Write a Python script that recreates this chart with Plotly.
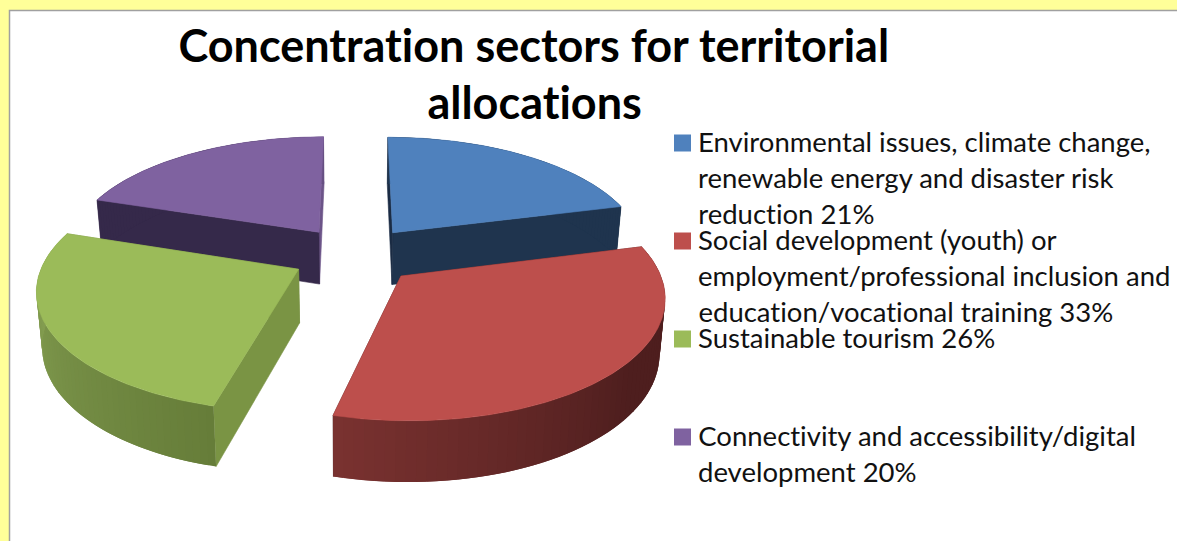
import numpy as np
import plotly.graph_objects as go

# Chart content
TITLE_LINES = ["Concentration sectors for territorial", "allocations"]
SHARES = [21, 33, 26, 20]
SECTOR_LINES = [
    ["Environmental issues, climate change,", "renewable energy and disaster risk", "reduction"],
    ["Social development (youth) or", "employment/professional inclusion and", "education/vocational training"],
    ["Sustainable tourism"],
    ["Connectivity and accessibility/digital", "development"],
]

# Palette: top face, first cut face, second cut face, rim at both ends
TOP_COLORS = ["#4f81bd", "#bd4f4c", "#9bbb59", "#7f62a0"]
START_CUT_COLORS = ["#1b2c44", "#4c1e1e", "#7a9444", "#35294a"]
END_CUT_COLORS = ["#1f344e", "#4c1e1e", "#7a9444", "#6c5488"]
RIM_FROM = ["#1f344e", "#4e1e1e", "#667d39", "#35294a"]
RIM_TO = ["#1f344e", "#7a3230", "#8ba657", "#6c5488"]
RIM_RAMP_START = [0.0, 0.45, 0.0, 0.9]
PAINT_ORDER = [0, 3, 2, 1]

# Projection of the tilted disc onto the plotting plane
CX, CY = 355.0, 255.0
SCALE_X, SCALE_Y = 253.0, 116.0
PERSPECTIVE = 0.15
THICKNESS = 53.0
FLOOR_SHRINK = 0.982
EXPLODE = 0.25
LEGEND_X = 699
LEGEND_SWATCH_X = 682.5
LEGEND_ROWS = [[143, 179, 215], [241, 277, 313], [339], [437, 473]]
FONT = "Lato, Carlito, Calibri, sans-serif"


def hex_rgb(code):
    return np.array([int(code[i:i + 2], 16) for i in (1, 3, 5)], dtype=float)


def mix(a, b, t):
    r, g, b_ = hex_rgb(a) * (1 - t) + hex_rgb(b) * t
    return f"rgb({r:.0f},{g:.0f},{b_:.0f})"


def top_point(theta, radius, off_x, off_y):
    """Project a disc point (clockwise angle from the back) to the top face."""
    big_x = off_x + radius * np.sin(theta)
    big_y = off_y + radius * np.cos(theta)
    w = 1 + PERSPECTIVE * big_y
    return CX + SCALE_X * big_x / w, CY - SCALE_Y * big_y / w, w


def floor_point(theta, radius, off_x, off_y):
    """Same disc point on the lower face of the slab."""
    x, y, w = top_point(theta, radius, off_x, off_y)
    return CX + (x - CX) * FLOOR_SHRINK, y + THICKNESS / w ** 0.75


def polygon(xs, ys, color, name, edge=0.6):
    return go.Scatter(
        x=list(xs) + [xs[0]], y=list(ys) + [ys[0]], mode="lines", fill="toself",
        fillcolor=color, line=dict(color=color, width=edge), name=name,
        hoverinfo="name", showlegend=False,
    )


fig = go.Figure()
edges = np.concatenate([[0], np.cumsum(SHARES)]) / sum(SHARES) * 2 * np.pi

for i in PAINT_ORDER:
    name = f"{SECTOR_LINES[i][-1]} {SHARES[i]}%"
    t0, t1 = edges[i], edges[i + 1]
    mid = (t0 + t1) / 2
    ox, oy = EXPLODE * np.sin(mid), EXPLODE * np.cos(mid)

    # Radial cut faces, lighter one underneath
    faces = [(t1, END_CUT_COLORS[i]), (t0, START_CUT_COLORS[i])]
    for angle, color in faces:
        ax, ay, _ = top_point(0, 0, ox, oy)
        bx, by, _ = top_point(angle, 1, ox, oy)
        fx0, fy0 = floor_point(0, 0, ox, oy)
        fx1, fy1 = floor_point(angle, 1, ox, oy)
        fig.add_trace(polygon([ax, bx, fx1, fx0], [ay, by, fy1, fy0], color, name))

    # Curved rim as shaded strips, each one running under the next to hide seams
    steps = np.linspace(t0, t1, 61)
    for j in range(len(steps) - 1):
        arc = np.linspace(steps[j], steps[min(j + 2, len(steps) - 1)], 4)
        tx, ty, _ = top_point(arc, 1, ox, oy)
        fx, fy = floor_point(arc, 1, ox, oy)
        along = (j + 0.5) / (len(steps) - 1)
        ramp = RIM_RAMP_START[i]
        shade = max(0.0, (along - ramp) / (1 - ramp))
        fig.add_trace(polygon(
            np.concatenate([tx, fx[::-1]]), np.concatenate([ty, fy[::-1]]),
            mix(RIM_FROM[i], RIM_TO[i], shade), name, edge=0,
        ))

    # Top face
    arc = np.linspace(t0, t1, 120)
    tx, ty, _ = top_point(arc, 1, ox, oy)
    ax, ay, _ = top_point(0, 0, ox, oy)
    fig.add_trace(polygon(np.concatenate([[ax], tx]), np.concatenate([[ay], ty]), TOP_COLORS[i], name))

# Legend swatches and wrapped labels
for i, rows in enumerate(LEGEND_ROWS):
    fig.add_trace(go.Scatter(
        x=[LEGEND_SWATCH_X], y=[rows[0]], mode="markers",
        marker=dict(symbol="square", size=17, color=TOP_COLORS[i], line=dict(width=0)),
        hoverinfo="skip", showlegend=False,
    ))
    for k, row_y in enumerate(rows):
        line = SECTOR_LINES[i][k]
        if k == len(rows) - 1:
            line = f"{line} {SHARES[i]}%"
        fig.add_annotation(
            x=LEGEND_X, y=row_y - 2, text=line, showarrow=False, xanchor="left", yanchor="middle",
            xshift=-3, font=dict(family=FONT, size=27.5, color="#111111"),
        )

# Two-line heading
for line, row_y in zip(TITLE_LINES, [45, 102]):
    fig.add_annotation(
        x=534, y=row_y, text=f"<b>{line}</b>", showarrow=False, xanchor="center", yanchor="middle",
        font=dict(family=FONT, size=45, color="#000000"),
    )

fig.update_layout(
    width=1177, height=541, margin=dict(l=0, r=0, t=0, b=0),
    paper_bgcolor="#ffff99", plot_bgcolor="rgba(0,0,0,0)", showlegend=False,
    xaxis=dict(range=[0, 1177], visible=False, fixedrange=True),
    yaxis=dict(range=[541, 0], visible=False, fixedrange=True),
    shapes=[dict(
        type="rect", x0=9.5, y0=10.5, x1=1190, y1=560, layer="below",
        fillcolor="#ffffff", line=dict(color="#a0a0a0", width=1.5),
    )],
)

# Plain letterforms, no joined "ti"
NO_LIGATURES = (
    "var s=document.createElement('style');"
    "s.textContent='text{font-variant-ligatures:none !important;}';"
    "document.head.appendChild(s);"
)
fig.write_html("out.html", config=dict(displayModeBar=False), post_script=NO_LIGATURES)
